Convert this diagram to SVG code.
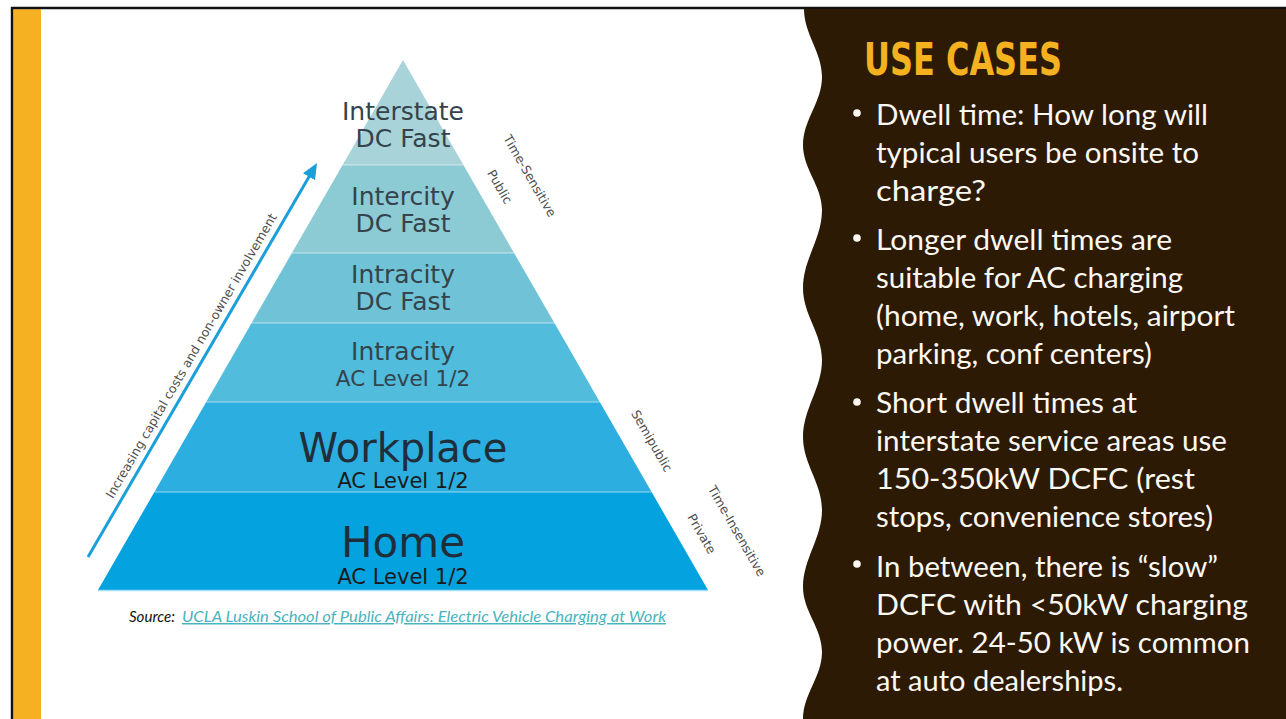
<svg xmlns="http://www.w3.org/2000/svg" width="1286" height="719" viewBox="0 0 1286 719">
  <defs>
    <style>
      .tier { font-family: "DejaVu Sans", "Open Sans", sans-serif; text-anchor: middle; fill: #34434c; }
      .tier-big { font-family: "DejaVu Sans", "Open Sans", sans-serif; text-anchor: middle; fill: #1f2e38; }
      .level { font-family: "DejaVu Sans", "Open Sans", sans-serif; text-anchor: middle; fill: #1a1a1a; font-size: 21px; }
      .side { font-family: "DejaVu Sans", "Open Sans", sans-serif; font-size: 12.5px; fill: #4d4d4d; text-anchor: middle; }
      .sep { stroke: #ffffff; stroke-opacity: 0.28; stroke-width: 2; }
      .body { font-family: Lato, "Open Sans", sans-serif; font-size: 28px; fill: #fbf8f2; }
      .bullet { fill: #fbf8f2; }
      .src { font-family: Lato, "Liberation Sans", sans-serif; font-style: italic; font-size: 15px; }
    </style>
    <marker id="arrowHead" markerUnits="userSpaceOnUse" markerWidth="18" markerHeight="16" refX="10" refY="7" orient="auto">
      <path d="M0,0 L16,7 L0,14 Z" fill="#1b9fdb"/>
    </marker>
  </defs>

  <!-- page frame -->
  <rect x="0" y="0" width="1286" height="719" fill="#ffffff"/>
  <rect x="13.2" y="9.2" width="27.8" height="710" fill="#f5b121"/>
  <path d="M12,719 V8 H1286" fill="none" stroke="#111111" stroke-width="2.4"/>

  <!-- pyramid tiers, top to bottom -->
  <g id="tier-interstate">
    <polygon points="403,60 463.4,165 342.6,165" fill="#a8d3d8"/>
    <text class="tier" x="403" y="120" font-size="25">Interstate</text>
    <text class="tier" x="403" y="147" font-size="25">DC Fast</text>
  </g>
  <g id="tier-intercity">
    <polygon points="342.6,165 463.4,165 514.1,253 291.9,253" fill="#8ccad4"/>
    <text class="tier" x="403" y="205" font-size="25">Intercity</text>
    <text class="tier" x="403" y="232" font-size="25">DC Fast</text>
  </g>
  <g id="tier-intracity-dc">
    <polygon points="291.9,253 514.1,253 554.4,323 251.6,323" fill="#70c3d6"/>
    <text class="tier" x="403" y="283" font-size="25">Intracity</text>
    <text class="tier" x="403" y="310" font-size="25">DC Fast</text>
  </g>
  <g id="tier-intracity-ac">
    <polygon points="251.6,323 554.4,323 599.8,402 206.2,402" fill="#51bcdc"/>
    <text class="tier" x="403" y="360" font-size="25">Intracity</text>
    <text class="tier" x="403" y="386" font-size="21.5">AC Level 1/2</text>
  </g>
  <g id="tier-workplace">
    <polygon points="206.2,402 599.8,402 651.6,492 154.4,492" fill="#2caee0"/>
    <text class="tier-big" x="403" y="462" font-size="40">Workplace</text>
    <text class="level" x="403" y="488">AC Level 1/2</text>
  </g>
  <g id="tier-home">
    <polygon points="154.4,492 651.6,492 708,590 98,590" fill="#05a2e0"/>
    <text class="tier-big" x="403" y="557" font-size="42">Home</text>
    <text class="level" x="403" y="584">AC Level 1/2</text>
  </g>

  <!-- light seams between tiers -->
  <g id="tier-seams">
    <line class="sep" x1="342.6" y1="165" x2="463.4" y2="165"/>
    <line class="sep" x1="291.9" y1="253" x2="514.1" y2="253"/>
    <line class="sep" x1="251.6" y1="323" x2="554.4" y2="323"/>
    <line class="sep" x1="206.2" y1="402" x2="599.8" y2="402"/>
    <line class="sep" x1="154.4" y1="492" x2="651.6" y2="492"/>
    <line x1="98" y1="590.5" x2="708" y2="590.5" stroke="#9fe0f5" stroke-width="1.5"/>
  </g>

  <!-- connectors -->
  <g id="connectors">
    <line x1="88" y1="557" x2="314" y2="168.2" stroke="#1b9fdb" stroke-width="3" marker-end="url(#arrowHead)"/>
  </g>

  <!-- axis annotations -->
  <g id="annotations">
    <text class="side" transform="translate(195,358) rotate(-59.8)" font-size="13">Increasing capital costs and non-owner involvement</text>
    <text class="side" transform="translate(526,178) rotate(60)">Time-Sensitive</text>
    <text class="side" transform="translate(496,189) rotate(60)">Public</text>
    <text class="side" transform="translate(648,443) rotate(60)">Semipublic</text>
    <text class="side" transform="translate(733,533) rotate(60)">Time-Insensitive</text>
    <text class="side" transform="translate(698,536) rotate(60)">Private</text>
  </g>

  <!-- source line -->
  <g id="source">
    <text class="src" x="129" y="622" fill="#111111" textLength="46" lengthAdjust="spacingAndGlyphs">Source:</text>
    <text class="src" x="182" y="622" fill="#4ab3bd" text-decoration="underline" textLength="484" lengthAdjust="spacingAndGlyphs">UCLA Luskin School of Public Affairs: Electric Vehicle Charging at Work</text>
  </g>

  <!-- right-hand panel with wavy edge -->
  <g id="use-cases-panel">
    <path d="M1286,9 L804,9 C804,34 822,52 822,77 C822,102 803,120 803,145 C803,169 822,186 822,210 C822,239 803,259 803,288 C803,315 822,333 822,360 C822,388 803,409 803,437 C803,464 822,483 822,510 C822,538 803,559 803,587 C803,611 822,628 822,652 C822,677 803,694 803,719 L1286,719 Z" fill="#2c1a04"/>
    <text x="864" y="75" font-family="'DejaVu Sans Condensed', 'DejaVu Sans', sans-serif" font-weight="900" font-size="45" fill="#f4b120" textLength="198" lengthAdjust="spacingAndGlyphs">USE CASES</text>

    <circle class="bullet" cx="857" cy="113" r="3.8"/>
    <circle class="bullet" cx="857" cy="238" r="3.8"/>
    <circle class="bullet" cx="857" cy="402" r="3.8"/>
    <circle class="bullet" cx="857" cy="564" r="3.8"/>

    <text class="body" x="876" y="125" textLength="332" lengthAdjust="spacingAndGlyphs">Dwell time: How long will</text>
    <text class="body" x="876" y="163" textLength="323" lengthAdjust="spacingAndGlyphs">typical users be onsite to</text>
    <text class="body" x="876" y="201" textLength="110" lengthAdjust="spacingAndGlyphs">charge?</text>

    <text class="body" x="876" y="250" textLength="296" lengthAdjust="spacingAndGlyphs">Longer dwell times are</text>
    <text class="body" x="876" y="288" textLength="307" lengthAdjust="spacingAndGlyphs">suitable for AC charging</text>
    <text class="body" x="876" y="326" textLength="359" lengthAdjust="spacingAndGlyphs">(home, work, hotels, airport</text>
    <text class="body" x="876" y="364" textLength="276" lengthAdjust="spacingAndGlyphs">parking, conf centers)</text>

    <text class="body" x="876" y="413" textLength="261" lengthAdjust="spacingAndGlyphs">Short dwell times at</text>
    <text class="body" x="876" y="451" textLength="351" lengthAdjust="spacingAndGlyphs">interstate service areas use</text>
    <text class="body" x="876" y="489" textLength="319" lengthAdjust="spacingAndGlyphs">150-350kW DCFC (rest</text>
    <text class="body" x="876" y="527" textLength="337" lengthAdjust="spacingAndGlyphs">stops, convenience stores)</text>

    <text class="body" x="876" y="577" textLength="342" lengthAdjust="spacingAndGlyphs">In between, there is “slow”</text>
    <text class="body" x="876" y="615" textLength="372" lengthAdjust="spacingAndGlyphs">DCFC with &lt;50kW charging</text>
    <text class="body" x="876" y="653" textLength="374" lengthAdjust="spacingAndGlyphs">power. 24-50 kW is common</text>
    <text class="body" x="876" y="691" textLength="247" lengthAdjust="spacingAndGlyphs">at auto dealerships.</text>
  </g>
</svg>
